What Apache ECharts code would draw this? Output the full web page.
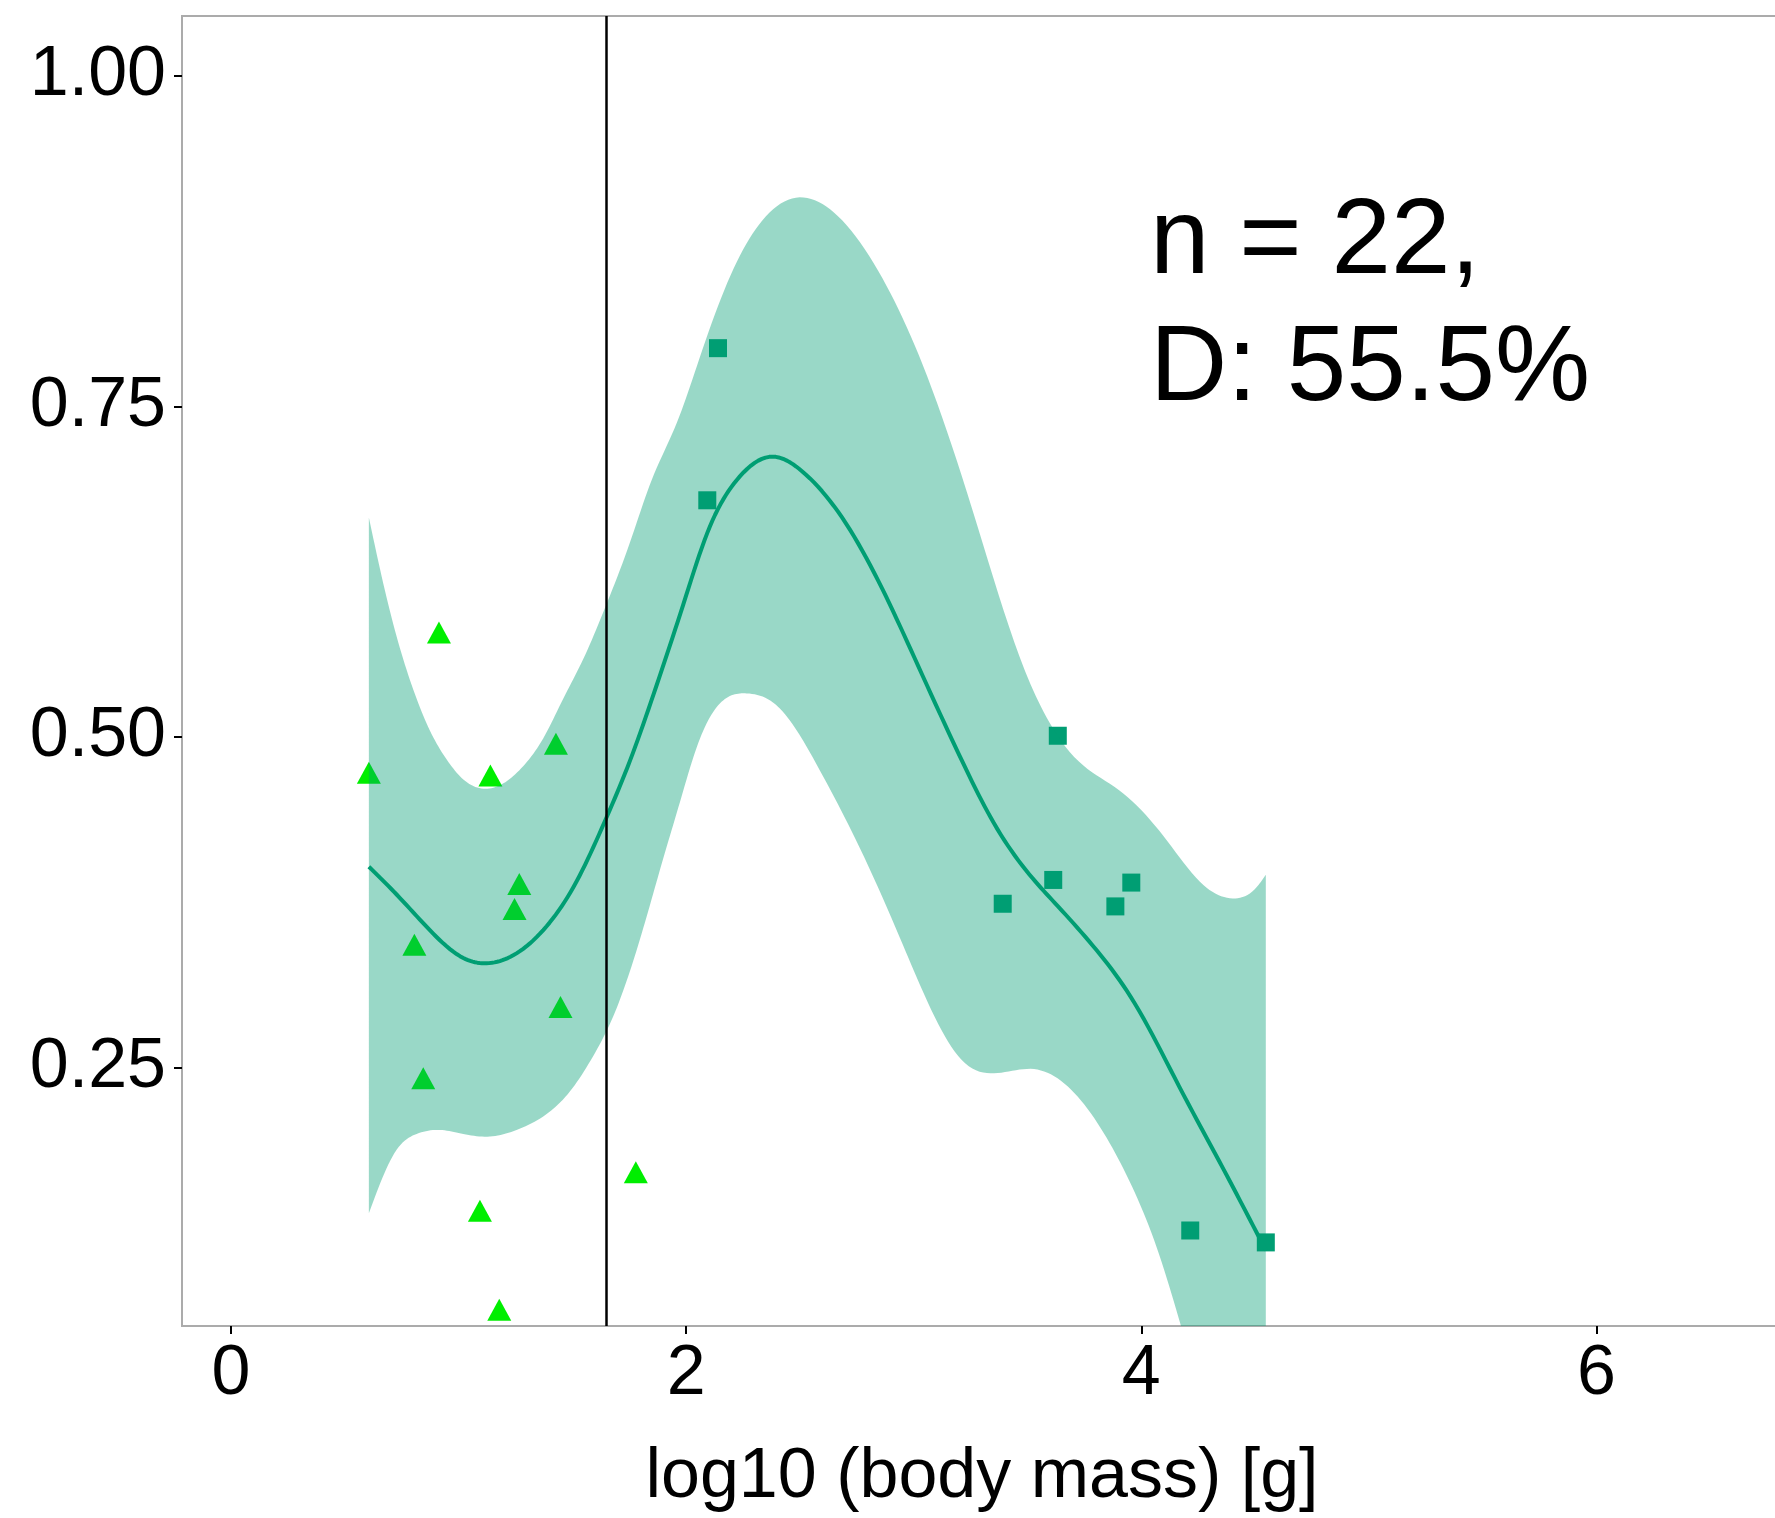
<!DOCTYPE html>
<html><head><meta charset="utf-8">
<script src="https://cdn.jsdelivr.net/npm/echarts@6/dist/echarts.min.js"></script>
<style>html,body{margin:0;padding:0;background:#fff}#c{width:1775px;height:1518px}</style>
</head><body><div id="c"></div>
<script>
// ---- data ----
const triX = [0.606, 0.806, 0.845, 0.914, 1.094, 1.140, 1.179, 1.246, 1.267, 1.428, 1.448, 1.779];
const triY = [0.473, 0.343, 0.242, 0.579, 0.142, 0.471, 0.067, 0.370, 0.389, 0.495, 0.296, 0.171];
const sqX = [2.093, 2.140, 3.391, 3.613, 3.633, 3.886, 3.956, 4.215, 4.547];
const sqY = [0.679, 0.794, 0.374, 0.392, 0.501, 0.372, 0.390, 0.127, 0.118];
const fitX = [0.606, 0.728, 0.874, 1.021, 1.123, 1.240, 1.387, 1.519, 1.642, 1.753, 1.870, 1.987, 2.104, 2.221, 2.381, 2.509, 2.685, 2.862, 3.019, 3.215, 3.352, 3.509, 3.634, 3.803, 3.970, 4.166, 4.362, 4.547];
const fitY = [0.402, 0.381, 0.354, 0.333, 0.329, 0.335, 0.357, 0.391, 0.436, 0.482, 0.539, 0.600, 0.659, 0.694, 0.712, 0.701, 0.666, 0.612, 0.554, 0.481, 0.435, 0.396, 0.372, 0.339, 0.299, 0.236, 0.173, 0.112];
const upperX = [0.606, 0.655, 0.728, 0.801, 0.874, 0.948, 1.021, 1.109, 1.197, 1.284, 1.372, 1.460, 1.548, 1.642, 1.753, 1.848, 1.960, 2.058, 2.195, 2.332, 2.499, 2.666, 2.862, 3.038, 3.254, 3.489, 3.607, 3.705, 3.901, 4.098, 4.274, 4.402, 4.509, 4.547];
const upperY = [0.666, 0.627, 0.576, 0.536, 0.505, 0.483, 0.468, 0.461, 0.465, 0.478, 0.499, 0.529, 0.559, 0.597, 0.647, 0.694, 0.738, 0.786, 0.849, 0.890, 0.908, 0.894, 0.847, 0.782, 0.674, 0.550, 0.508, 0.485, 0.460, 0.425, 0.388, 0.378, 0.387, 0.396];
const lowerX = [0.606, 0.692, 0.728, 0.816, 0.918, 1.021, 1.138, 1.255, 1.387, 1.489, 1.592, 1.680, 1.753, 1.826, 1.899, 1.973, 2.046, 2.119, 2.192, 2.266, 2.383, 2.486, 2.587, 2.744, 2.940, 3.063, 3.210, 3.369, 3.529, 3.676, 3.823, 3.946, 4.068, 4.174, 4.300, 4.450, 4.547];
const lowerY = [0.140, 0.177, 0.188, 0.200, 0.203, 0.200, 0.198, 0.203, 0.215, 0.232, 0.259, 0.289, 0.323, 0.364, 0.408, 0.451, 0.492, 0.519, 0.531, 0.533, 0.526, 0.505, 0.475, 0.423, 0.348, 0.299, 0.256, 0.246, 0.249, 0.236, 0.204, 0.165, 0.114, 0.055, -0.020, -0.100, -0.150];
const thresholdX = 1.645;
const xTicks = [0, 2, 4, 6];
const yTicks = [0.25, 0.50, 0.75, 1.00];
const annotLines = ['n = 22,', 'D: 55.5%'];
const xTitle = 'log10 (body mass) [g]';

const FONT = '"Liberation Sans", Arial, sans-serif';
const zip = (a, b) => a.map((v, i) => [v, b[i]]);

// natural cubic spline through pixel points (x increasing)
function naturalSpline(pts, n) {
  const N = pts.length, x = pts.map(p => p[0]), y = pts.map(p => p[1]);
  const h = [];
  for (let i = 0; i < N - 1; i++) h.push(x[i + 1] - x[i]);
  const a = new Array(N).fill(0), b = new Array(N).fill(1), c = new Array(N).fill(0), d = new Array(N).fill(0);
  for (let i = 1; i < N - 1; i++) {
    a[i] = h[i - 1]; b[i] = 2 * (h[i - 1] + h[i]); c[i] = h[i];
    d[i] = 6 * ((y[i + 1] - y[i]) / h[i] - (y[i] - y[i - 1]) / h[i - 1]);
  }
  for (let i = 1; i < N; i++) { const m = a[i] / b[i - 1]; b[i] -= m * c[i - 1]; d[i] -= m * d[i - 1]; }
  const M = new Array(N);
  M[N - 1] = d[N - 1] / b[N - 1];
  for (let i = N - 2; i >= 0; i--) M[i] = (d[i] - c[i] * M[i + 1]) / b[i];
  const out = [];
  for (let i = 0; i < N - 1; i++) {
    for (let k = 0; k < n; k++) {
      const t = k / n, A = 1 - t, B = t;
      out.push([x[i] + t * h[i], A * y[i] + B * y[i + 1] + ((A * A * A - A) * M[i] + (B * B * B - B) * M[i + 1]) * h[i] * h[i] / 6]);
    }
  }
  out.push(pts[N - 1]);
  return out;
}

const chart = echarts.init(document.getElementById('c'), null, {renderer: 'canvas'});
chart.setOption({
  animation: false,
  backgroundColor: '#ffffff',
  grid: {left: 182, top: 16, bottom: 192, right: -7, show: true, borderColor: '#ABABAB', borderWidth: 2, backgroundColor: 'transparent', containLabel: false, outerBoundsMode: 'none'},
  xAxis: {
    type: 'value', min: -0.215, max: 6.815,
    axisLine: {show: true, onZero: false, lineStyle: {color: '#ABABAB', width: 2}},
    axisTick: {show: true, length: 8, customValues: xTicks, lineStyle: {color: '#000', width: 2}},
    axisLabel: {customValues: xTicks, fontSize: 70, color: '#000', fontFamily: FONT, margin: 14},
    splitLine: {show: false},
    name: xTitle, nameLocation: 'middle', nameGap: 117,
    nameTextStyle: {fontSize: 70, color: '#000', fontFamily: FONT}
  },
  yAxis: {
    type: 'value', min: 0.0548, max: 1.0451,
    axisLine: {show: true, onZero: false, lineStyle: {color: '#ABABAB', width: 2}},
    axisTick: {show: true, length: 8, customValues: yTicks, lineStyle: {color: '#000', width: 2}},
    axisLabel: {customValues: yTicks, fontSize: 70, color: '#000', fontFamily: FONT, margin: 16,
      formatter: v => v.toFixed(2)},
    splitLine: {show: false}
  },
  graphic: [
    {type: 'text', left: 1150, top: 190, style: {text: annotLines[0], font: '107px ' + FONT, fill: '#000'}},
    {type: 'text', left: 1150, top: 317, style: {text: annotLines[1], font: '107px ' + FONT, fill: '#000'}}
  ],
  series: [
    {type: 'scatter', z: 2, data: zip(triX, triY), symbol: 'triangle', symbolSize: [24, 22],
      itemStyle: {color: '#00EE00', opacity: 1}, silent: true},
    {type: 'scatter', z: 2, data: zip(sqX, sqY), symbol: 'rect', symbolSize: 18,
      itemStyle: {color: '#009E73', opacity: 1}, silent: true},
    {type: 'custom', z: 3, clip: true, silent: true, data: [[0, 0]],
      renderItem: function (params, api) {
        const up = naturalSpline(zip(upperX, upperY).map(p => api.coord(p)), 10);
        const lo = naturalSpline(zip(lowerX, lowerY).map(p => api.coord(p)), 10);
        const pts = up.concat(lo.reverse());
        const cs = params.coordSys;
        return {type: 'polygon', shape: {points: pts}, style: {fill: 'rgba(0,158,115,0.4)'},
          clipPath: {type: 'rect', shape: {x: cs.x, y: cs.y, width: cs.width, height: cs.height}}};
      }},
    {type: 'custom', z: 4, clip: true, silent: true, data: [[0, 0]],
      renderItem: function (params, api) {
        const pts = naturalSpline(zip(fitX, fitY).map(p => api.coord(p)), 10);
        return {type: 'polyline', shape: {points: pts},
          style: {stroke: '#009E73', lineWidth: 4, fill: 'none', lineJoin: 'round'}};
      }},
    {type: 'line', z: 5, data: [], silent: true,
      markLine: {silent: true, symbol: 'none', label: {show: false},
        lineStyle: {color: '#000', width: 2.5, type: 'solid'}, data: [{xAxis: thresholdX}]}}
  ]
});
</script></body></html>
